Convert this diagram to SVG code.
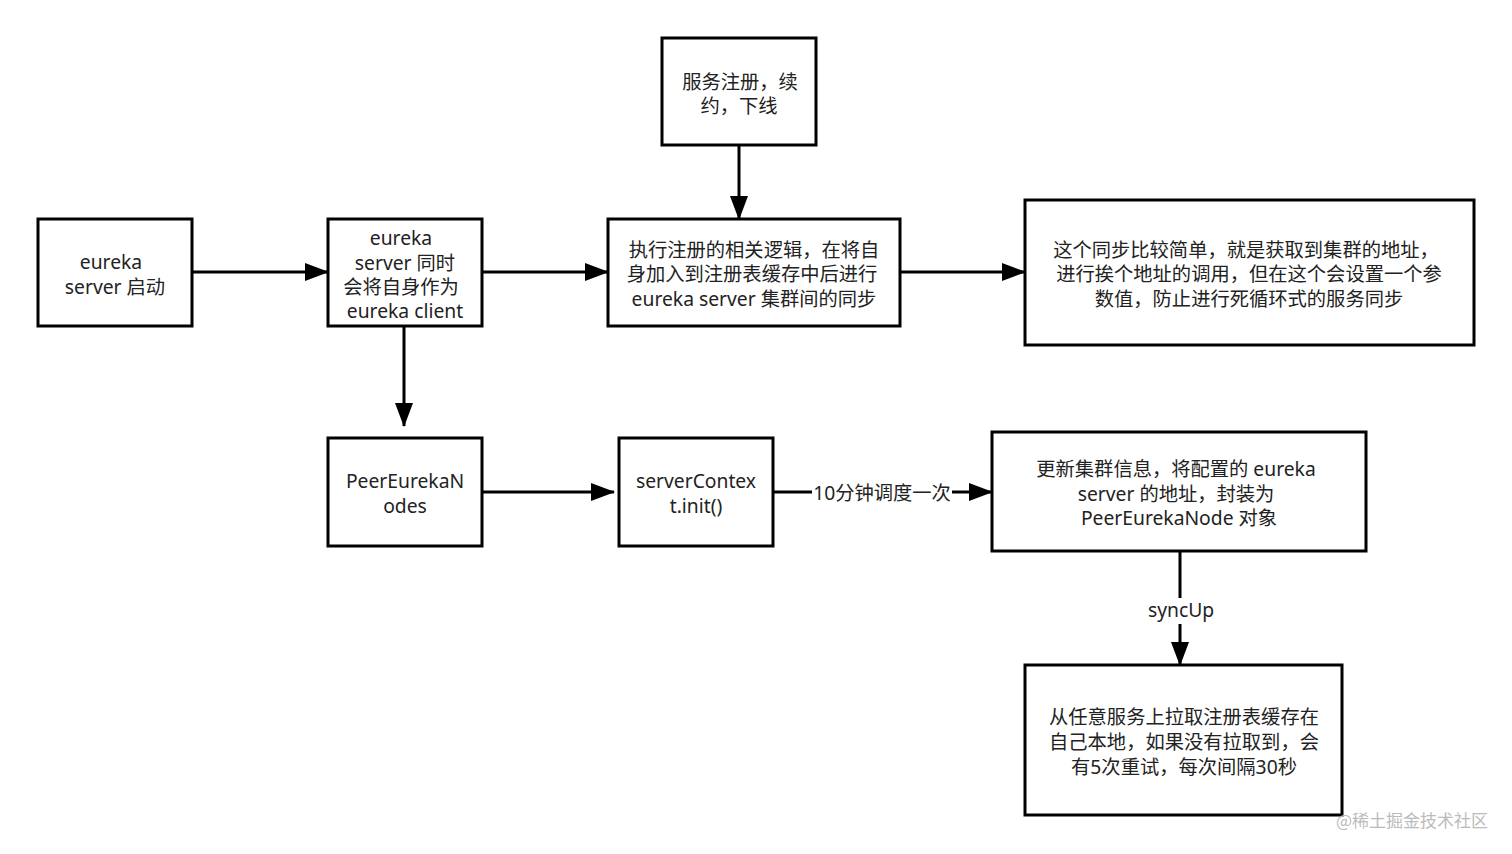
<svg xmlns="http://www.w3.org/2000/svg" width="1512" height="854" viewBox="0 0 1512 854">
<style>
.box{fill:#fff;stroke:#000;stroke-width:3}
.t{font-family:"Noto Sans","Noto Sans CJK SC",sans-serif;font-size:19.3px;fill:#222;text-anchor:middle}
.c{stroke:#000;stroke-width:3;fill:none}
</style>
<defs>
<marker id="b" markerWidth="24" markerHeight="18" refX="23" refY="9" orient="auto" markerUnits="userSpaceOnUse" viewBox="0 0 24 18"><path d="M0,0L24,9L0,18Z" fill="#000"/></marker></defs>
<rect width="1512" height="854" fill="#fff"/>
<g id="connectors">
<path class="c" d="M192,272H328" marker-end="url(#b)"/>
<path class="c" d="M482,272H608" marker-end="url(#b)"/>
<path class="c" d="M739,145V219" marker-end="url(#b)"/>
<path class="c" d="M900,272H1025" marker-end="url(#b)"/>
<path class="c" d="M404,326V426" marker-end="url(#b)"/>
<path class="c" d="M482,492H614" marker-end="url(#b)"/>
<path class="c" d="M773,492H992" marker-end="url(#b)"/>
<path class="c" d="M1180,551V665" marker-end="url(#b)"/>
<rect x="812" y="480" width="140" height="26" fill="#fff"/>
<text class="t" x="882" y="500">10分钟调度一次</text>
<rect x="1146" y="598" width="70" height="26" fill="#fff"/>
<text class="t" x="1181" y="617">syncUp</text>
</g>
<g id="n1"><rect class="box" x="38" y="219" width="154" height="107"/><text class="t" x="111" y="269">eureka</text><text class="t" x="115" y="294">server 启动</text></g>
<g id="n2"><rect class="box" x="328" y="219" width="154" height="107"/><text class="t" x="401" y="245">eureka</text><text class="t" x="405" y="270">server 同时</text><text class="t" x="401" y="294">会将自身作为</text><text class="t" x="405" y="318">eureka client</text></g>
<g id="n3"><rect class="box" x="608" y="219" width="292" height="107"/><text class="t" x="754" y="257">执行注册的相关逻辑，在将自</text><text class="t" x="752" y="281">身加入到注册表缓存中后进行</text><text class="t" x="754" y="306">eureka server 集群间的同步</text></g>
<g id="n4"><rect class="box" x="662" y="38" width="154" height="107"/><text class="t" x="740" y="89">服务注册，续</text><text class="t" x="739" y="113">约，下线</text></g>
<g id="n5"><rect class="box" x="1025" y="200" width="449" height="145"/><text class="t" x="1246" y="257">这个同步比较简单，就是获取到集群的地址，</text><text class="t" x="1249" y="281">进行挨个地址的调用，但在这个会设置一个参</text><text class="t" x="1249" y="306">数值，防止进行死循环式的服务同步</text></g>
<g id="n6"><rect class="box" x="328" y="438" width="154" height="108"/><text class="t" x="405" y="488">PeerEurekaN</text><text class="t" x="405" y="513">odes</text></g>
<g id="n7"><rect class="box" x="619" y="438" width="154" height="108"/><text class="t" x="696" y="488">serverContex</text><text class="t" x="696" y="513">t.init()</text></g>
<g id="n8"><rect class="box" x="992" y="432" width="374" height="119"/><text class="t" x="1176" y="476">更新集群信息，将配置的 eureka</text><text class="t" x="1176" y="501">server 的地址，封装为</text><text class="t" x="1179" y="525">PeerEurekaNode 对象</text></g>
<g id="n9"><rect class="box" x="1025" y="665" width="317" height="150"/><text class="t" x="1184" y="724">从任意服务上拉取注册表缓存在</text><text class="t" x="1184" y="749">自己本地，如果没有拉取到，会</text><text class="t" x="1184" y="774">有5次重试，每次间隔30秒</text></g>
<text x="1488" y="827" style="font-family:'Noto Sans CJK SC',sans-serif;font-size:17px;fill:#bbb;text-anchor:end">@稀土掘金技术社区</text>
</svg>
